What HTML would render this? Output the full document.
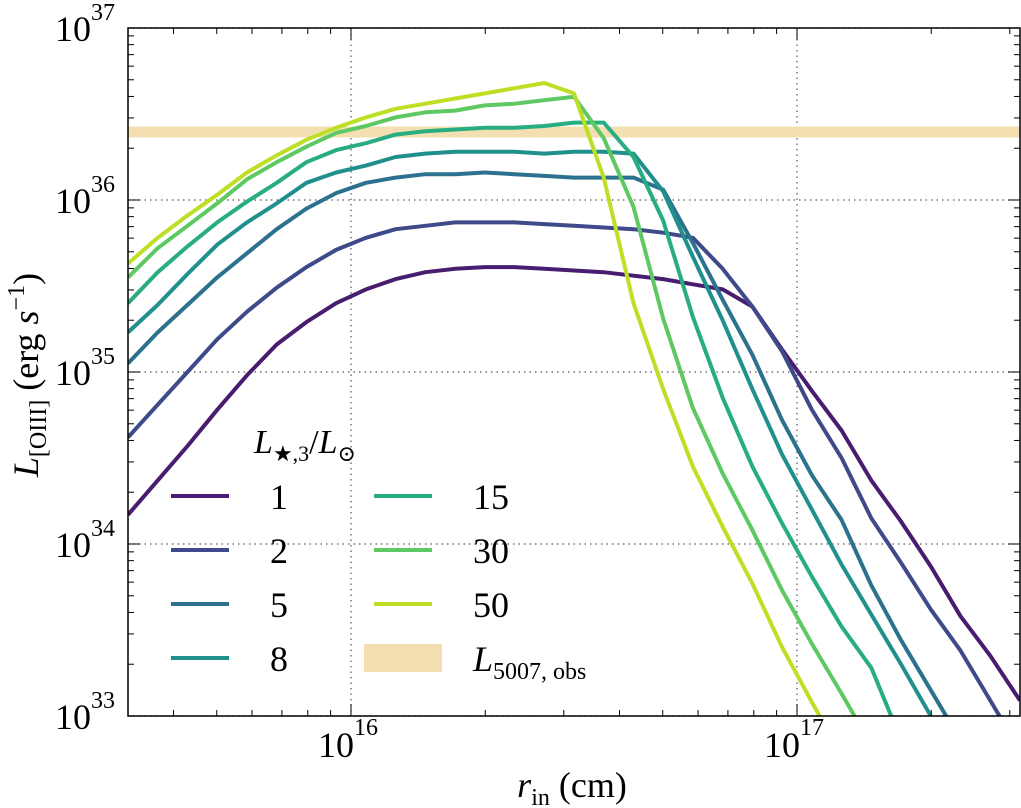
<!DOCTYPE html>
<html><head><meta charset="utf-8"><style>
html,body{margin:0;padding:0;background:#fff;}
svg, svg text{font-family:"Liberation Serif","DejaVu Serif",serif;}
svg{display:block;}
</style></head><body>
<svg id="chart" width="1021" height="808" viewBox="0 0 1021 808" xmlns="http://www.w3.org/2000/svg" font-family="Liberation Serif, DejaVu Serif, serif">
<defs><clipPath id="plotclip"><rect x="128" y="28" width="892" height="688"/></clipPath></defs>
<g id="grid"></g>
<g id="band" clip-path="url(#plotclip)"></g>
<g id="series" clip-path="url(#plotclip)"></g>
<rect x="128" y="28" width="892" height="688" fill="none" stroke="#000" stroke-width="1.5"/>
<g id="ticks"></g>
<g id="ylabels"></g>
<g id="xlabels"></g>
<text x="572" y="797" font-size="36" text-anchor="middle" font-family="Liberation Serif, serif"><tspan font-style="italic">r</tspan><tspan font-size="24" dy="8">in</tspan><tspan dy="-8"> (cm)</tspan></text>
<text transform="translate(38,375) rotate(-90)" font-size="36" text-anchor="middle" font-family="Liberation Serif, serif"><tspan font-style="italic">L</tspan><tspan font-size="24" dy="8">[OIII]</tspan><tspan dy="-8"> (erg </tspan><tspan font-style="italic">s</tspan><tspan font-size="24" dy="-14">−1</tspan><tspan dy="14">)</tspan></text>
<g id="legend">
<text x="305" y="453" font-size="34" text-anchor="middle" font-family="Liberation Serif, serif"><tspan font-style="italic">L</tspan><tspan font-size="22" dy="8">★,3</tspan><tspan dy="-8">/</tspan><tspan font-style="italic">L</tspan><tspan font-size="22" dy="8">⊙</tspan></text>
</g>
</svg>
<script>
const logR = [15.5,15.5667,15.6333,15.7,15.7667,15.8333,15.9,15.9667,16.0333,16.1,16.1667,16.2333,16.3,16.3667,16.4333,16.5,16.5667,16.6333,16.7,16.7667,16.8333,16.9,16.9667,17.0333,17.1,17.1667,17.2333,17.3,17.3667,17.4333,17.5];
const seriesLabels = ["1","2","5","8","15","30","50"];
const logL_1 = [34.17,34.37,34.57,34.78,34.98,35.16,35.29,35.40,35.48,35.54,35.58,35.60,35.61,35.61,35.60,35.59,35.58,35.56,35.54,35.51,35.48,35.38,35.13,34.89,34.66,34.37,34.13,33.87,33.58,33.35,33.09];
const logL_2 = [34.62,34.81,35.00,35.19,35.35,35.49,35.61,35.71,35.78,35.83,35.85,35.87,35.87,35.87,35.86,35.85,35.84,35.83,35.81,35.78,35.60,35.38,35.12,34.78,34.50,34.15,33.89,33.62,33.38,33.09,32.80];
const logL_5 = [35.05,35.23,35.39,35.55,35.69,35.83,35.95,36.04,36.10,36.13,36.15,36.15,36.16,36.15,36.14,36.13,36.13,36.13,36.06,35.75,35.42,35.10,34.72,34.40,34.14,33.76,33.44,33.15,32.86];
const logL_8 = [35.23,35.39,35.57,35.74,35.87,35.98,36.10,36.16,36.20,36.25,36.27,36.28,36.28,36.28,36.27,36.28,36.28,36.27,36.05,35.67,35.30,34.90,34.52,34.20,33.88,33.59,33.30,33.00,32.70];
const logL_15 = [35.40,35.58,35.73,35.87,35.99,36.10,36.22,36.29,36.33,36.38,36.40,36.41,36.42,36.42,36.43,36.45,36.45,36.25,35.88,35.32,34.85,34.45,34.12,33.81,33.52,33.28,32.86];
const logL_30 = [35.55,35.72,35.85,35.98,36.12,36.22,36.31,36.39,36.43,36.48,36.51,36.52,36.55,36.56,36.58,36.60,36.36,35.96,35.31,34.79,34.41,34.08,33.73,33.42,33.13,32.83];
const logL_50 = [35.63,35.78,35.91,36.03,36.16,36.26,36.35,36.42,36.48,36.53,36.56,36.59,36.62,36.65,36.68,36.62,36.13,35.40,34.90,34.45,34.10,33.77,33.40,33.08,32.77];
const obsLogL = 36.395;
const xTickExps = ["16","17"];
const yTickExps = ["33","34","35","36","37"];

const NS="http://www.w3.org/2000/svg";
const FONT="Liberation Serif, DejaVu Serif, serif";
const X0=128,X1=1020,Y0=716,Y1=28;
function xs(l){return X0+(l-15.5)/2*(X1-X0);}
function ys(l){return Y0-(l-33)/4*(Y0-Y1);}
function mk(tag,attrs,parent){const e=document.createElementNS(NS,tag);for(const k in attrs)e.setAttribute(k,attrs[k]);parent.appendChild(e);return e;}
const colors=["#481c6e","#3e4a89","#2c718e","#21908d","#27ad81","#5ec962","#bddf26"];
const allSeries=[logL_1,logL_2,logL_5,logL_8,logL_15,logL_30,logL_50];

const grid=document.getElementById('grid');
xTickExps.forEach(e=>{const x=xs(+e);const l=mk('line',{x1:x,x2:x,y1:Y1,y2:Y0,stroke:'#555','stroke-width':1.2,'stroke-dasharray':'1.5,4'},grid);

});
yTickExps.forEach(e=>{const y=ys(+e);const l=mk('line',{x1:X0,x2:X1,y1:y,y2:y,stroke:'#555','stroke-width':1.2,'stroke-dasharray':'1.5,4'},grid);

});

const band=document.getElementById('band');
const b=mk('line',{x1:X0,x2:X1,y1:ys(obsLogL),y2:ys(obsLogL),stroke:'#f3dfb2','stroke-width':11},band);



const ser=document.getElementById('series');
allSeries.forEach((arr,i)=>{const pts=arr.map((v,k)=>xs(logR[k]).toFixed(1)+','+ys(v).toFixed(1)).join(' ');
const p=mk('polyline',{points:pts,fill:'none',stroke:colors[i],'stroke-width':4,'stroke-linejoin':'round'},ser);

});

const ticks=document.getElementById('ticks');
function tick(x1,y1,x2,y2){const t=mk('line',{x1,y1,x2,y2,stroke:'#000','stroke-width':1},ticks);

}
for(let d=15;d<=17;d++){for(let m=1;m<=9;m++){const l=d+Math.log10(m);if(l<15.5||l>17.5)continue;const x=xs(l);const len=m===1?12:6;tick(x,Y0,x,Y0-len);tick(x,Y1,x,Y1+len);}}
for(let d=33;d<37;d++){for(let m=1;m<=9;m++){const l=d+Math.log10(m);const y=ys(l);const len=m===1?12:6;tick(X0,y,X0+len,y);tick(X1,y,X1-len,y);}}

const yl=document.getElementById('ylabels');
yTickExps.forEach(e=>{const y=ys(+e);const t=mk('text',{x:91,y:y+13,'font-size':36,'text-anchor':'end','font-family':FONT},yl);t.textContent='10';


const s=mk('text',{x:91,y:y-8,'font-size':24,'font-family':FONT},yl);s.textContent=e;

});
const xl=document.getElementById('xlabels');
xTickExps.forEach(e=>{const x=xs(+e);const t=mk('text',{x:x+3,y:757,'font-size':36,'text-anchor':'end','font-family':FONT},xl);t.textContent='10';


const s=mk('text',{x:x+3,y:735,'font-size':24,'font-family':FONT},xl);s.textContent=e;

});

const leg=document.getElementById('legend');
const legPos=[[171,496],[171,550],[171,604],[171,658],[374,496],[374,550],[374,604]];
seriesLabels.forEach((lab,i)=>{const [x,y]=legPos[i];
const l=mk('line',{x1:x,x2:x+58,y1:y,y2:y,stroke:colors[i],'stroke-width':4},leg);


const t=mk('text',{x:x+99,y:y+13,'font-size':36,'font-family':FONT},leg);t.textContent=lab;

});
const bp=mk('rect',{x:364,y:644,width:78,height:28,fill:'#f3dfb2'},leg);


const bt=mk('text',{x:473,y:671,'font-size':36,'font-family':FONT},leg);


bt.innerHTML='<tspan font-style="italic">L</tspan><tspan font-size="24" dy="8">5007, obs</tspan>';
</script>
</body></html>
